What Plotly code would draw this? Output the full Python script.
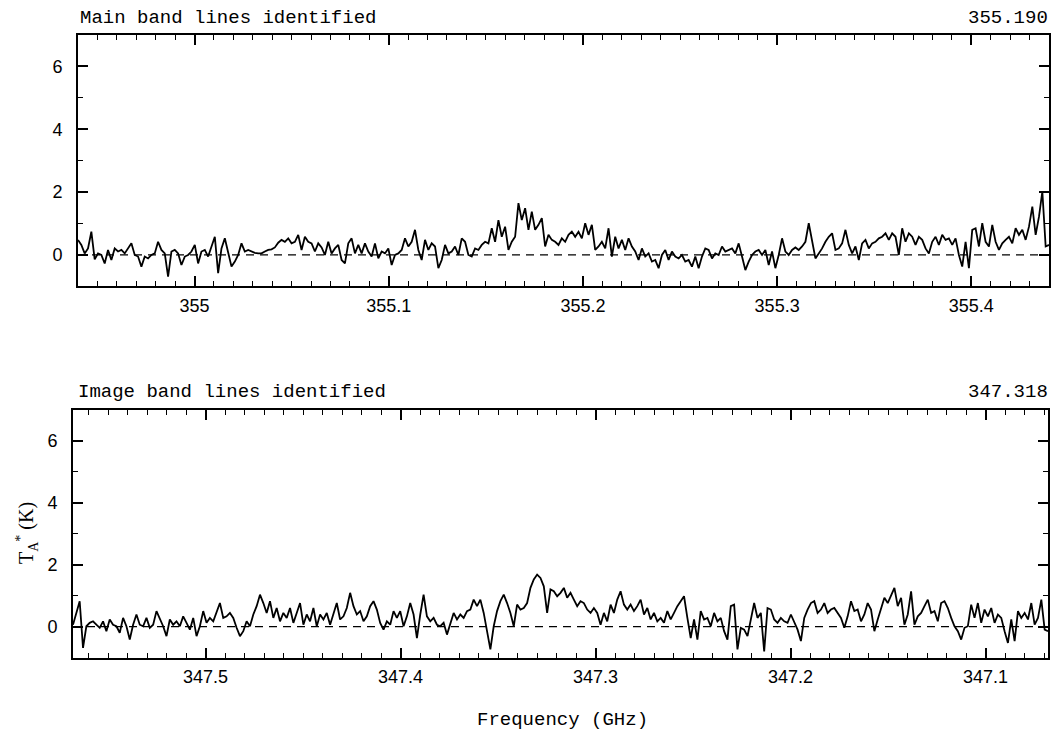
import numpy as np
import plotly.graph_objects as go

# Main band spectrum (K), channels from 354.940 to 355.440 GHz
main_start = 354.940
main_stop = 355.440
main_ta = [
    0.48, 0.32, 0.05, 0.21, 0.74, -0.14, 0.05, 0.00, -0.27, 0.16,
    -0.16, 0.21, 0.11, 0.16, 0.05, 0.21, 0.37, 0.00, -0.05, -0.37,
    -0.05, -0.11, 0.00, 0.05, 0.42, 0.16, 0.05, -0.69, 0.11, 0.16,
    0.05, -0.32, -0.05, 0.00, 0.11, 0.32, -0.27, 0.11, 0.16, -0.05,
    0.27, 0.58, -0.58, 0.21, 0.53, 0.05, -0.37, -0.21, 0.00, 0.37,
    0.11, 0.16, 0.11, 0.07, 0.05, 0.05, 0.11, 0.16, 0.18, 0.24,
    0.39, 0.48, 0.42, 0.53, 0.37, 0.42, 0.64, 0.16, 0.58, 0.42,
    0.37, 0.11, 0.37, 0.24, 0.00, 0.42, 0.05, 0.21, 0.32, -0.16,
    -0.27, 0.37, 0.53, 0.05, 0.32, 0.05, 0.37, 0.11, -0.05, 0.37,
    -0.11, 0.11, 0.05, 0.21, -0.32, 0.00, 0.05, 0.16, 0.53, 0.27,
    0.42, 0.80, 0.16, -0.16, 0.48, 0.16, 0.37, 0.27, -0.42, -0.16,
    0.32, 0.05, 0.11, 0.27, 0.00, 0.53, 0.42, 0.00, -0.05, 0.21,
    0.16, 0.32, 0.42, 0.37, 0.85, 0.42, 1.11, 0.58, 0.90, 0.16,
    0.42, 0.58, 1.65, 1.11, 1.49, 0.80, 1.38, 0.80, 0.96, 1.17,
    0.27, 0.64, 0.48, 0.42, 0.32, 0.53, 0.42, 0.64, 0.74, 0.58,
    0.74, 0.53, 1.01, 0.64, 0.96, 0.16, 0.27, 0.42, 0.21, 0.85,
    -0.05, 0.58, 0.21, 0.48, 0.16, 0.53, 0.27, 0.11, -0.16, 0.21,
    -0.05, 0.05, -0.21, -0.16, -0.42, 0.00, 0.16, -0.16, 0.11, -0.05,
    -0.11, 0.00, -0.21, -0.16, -0.37, -0.05, -0.42, -0.05, 0.21, 0.16,
    -0.11, 0.05, 0.00, 0.27, 0.11, 0.16, 0.21, 0.05, 0.37, -0.05,
    -0.48, -0.21, 0.00, 0.11, 0.16, 0.00, 0.16, -0.32, 0.11, -0.42,
    0.00, 0.53, 0.11, 0.00, 0.16, 0.24, 0.16, 0.27, 0.42, 1.01,
    0.48, -0.11, 0.05, 0.21, 0.42, 0.58, 0.69, 0.16, 0.21, 0.37,
    0.80, 0.32, 0.05, 0.27, -0.16, 0.37, 0.48, 0.21, 0.37, 0.42,
    0.53, 0.58, 0.69, 0.48, 0.69, 0.58, 0.00, 0.85, 0.42, 0.69,
    0.58, 0.32, 0.58, 0.48, 0.21, 0.05, 0.42, 0.58, 0.32, 0.64,
    0.48, 0.53, 0.32, 0.53, 0.00, -0.37, 0.42, -0.42, 0.80, 0.85,
    0.27, 1.01, 0.42, 0.27, 0.96, 0.42, 0.16, 0.37, 0.48, 0.58,
    0.37, 0.85, 0.64, 0.80, 0.48, 0.90, 1.54, 0.64, 1.22, 2.02,
    0.27, 0.32,
]

# Image band spectrum (K), channels from 347.568 down to 347.068 GHz
image_start = 347.568
image_stop = 347.068
image_ta = [
    0.06, 0.44, 0.82, -0.69, 0.01, 0.12, 0.17, 0.06, -0.04, 0.17,
    -0.15, 0.23, 0.06, 0.01, -0.20, 0.28, 0.01, -0.42, 0.06, 0.39,
    0.06, 0.01, 0.28, -0.04, 0.06, 0.50, 0.28, 0.01, -0.31, 0.23,
    0.06, 0.17, 0.01, 0.33, 0.12, -0.10, 0.28, -0.31, 0.01, 0.50,
    0.12, 0.28, 0.17, 0.44, 0.76, 0.28, 0.33, 0.44, 0.28, -0.04,
    -0.31, -0.15, 0.17, 0.01, 0.39, 0.66, 1.03, 0.76, 0.44, 0.82,
    0.28, 0.60, 0.17, 0.44, 0.28, 0.60, 0.12, 0.44, 0.76, 0.06,
    0.39, 0.17, 0.60, 0.01, 0.39, 0.23, 0.44, 0.06, 0.39, 0.76,
    0.23, 0.33, 0.60, 1.09, 0.66, 0.39, 0.50, 0.17, 0.33, 0.66,
    0.82, 0.55, 0.12, -0.10, 0.17, 0.06, 0.50, 0.28, 0.50, 0.01,
    0.33, 0.76, 0.39, -0.37, 0.39, 1.03, 0.33, 0.17, 0.28, 0.06,
    0.01, 0.12, -0.26, 0.06, 0.44, 0.23, 0.39, 0.28, 0.50, 0.55,
    0.87, 0.66, 0.87, 0.44, -0.10, -0.74, 0.01, 0.50, 0.82, 1.03,
    0.76, 0.44, 0.01, 0.71, 0.55, 0.60, 0.76, 1.25, 1.52, 1.68,
    1.57, 1.30, 0.44, 1.20, 1.14, 0.98, 1.09, 1.25, 0.93, 1.09,
    0.87, 0.66, 0.82, 0.76, 0.55, 0.44, 0.60, 0.44, 0.06, 0.44,
    0.17, 0.71, 0.44, 0.87, 1.14, 0.71, 0.55, 0.71, 0.50, 0.66,
    0.87, 0.39, 0.60, 0.23, 0.44, 0.17, 0.28, 0.12, 0.50, 0.23,
    0.44, 0.66, 0.82, 0.98, 0.28, -0.37, 0.23, -0.42, 0.50, 0.23,
    0.28, 0.01, 0.44, 0.17, 0.28, -0.15, -0.42, 0.66, 0.71, -0.74,
    -0.04, -0.10, -0.31, 0.28, 0.76, 0.28, 0.44, -0.80, 0.60, 0.55,
    0.23, 0.12, 0.28, 0.17, 0.12, 0.39, 0.12, -0.10, -0.47, 0.28,
    0.55, 0.76, 0.82, 0.44, 0.55, 0.76, 0.44, 0.55, 0.60, 0.44,
    0.28, -0.04, 0.33, 0.82, 0.50, 0.55, 0.17, 0.39, 0.76, 0.55,
    -0.15, 0.23, 0.60, 0.93, 0.76, 0.98, 1.25, 0.66, 0.93, 0.06,
    0.39, 1.14, 0.06, 0.33, 0.44, 0.66, 0.87, 0.44, 0.50, 0.17,
    0.76, 0.82, 0.60, 0.28, 0.01, -0.15, -0.42, -0.04, 0.01, 0.71,
    0.28, 0.76, 0.12, 0.55, 0.33, 0.60, 0.12, 0.39, 0.28, -0.15,
    -0.53, 0.23, -0.47, 0.50, 0.28, 0.44, 0.23, 0.76, 0.06, 0.28,
    0.87, -0.10, -0.15,
]

main_freq = np.linspace(main_start, main_stop, len(main_ta))
image_freq = np.linspace(image_start, image_stop, len(image_ta))

W, H = 1055, 737
MONO = "Liberation Mono, Courier New, monospace"
SANS = "Liberation Sans, Arial, sans-serif"


def px_x(p):
    return p / W


def px_y(p):
    return 1 - p / H


fig = go.Figure()
fig.add_trace(go.Scatter(x=main_freq, y=main_ta, mode="lines",
                         line=dict(color="black", width=1.8),
                         xaxis="x", yaxis="y", showlegend=False))
fig.add_trace(go.Scatter(x=image_freq, y=image_ta, mode="lines",
                         line=dict(color="black", width=1.8),
                         xaxis="x2", yaxis="y2", showlegend=False))


def xaxis_style(domain, rng, tick0, anchor):
    return dict(
        domain=domain, range=rng, anchor=anchor,
        showline=True, linecolor="black", linewidth=2, mirror="ticks",
        ticks="inside", ticklen=10, tickwidth=1.5, tickcolor="black",
        tick0=tick0, dtick=0.1,
        minor=dict(dtick=0.01, ticks="inside", ticklen=5, tickwidth=1.2,
                   tickcolor="black", showgrid=False),
        showgrid=False, zeroline=False,
        tickfont=dict(family=SANS, size=18, color="black"),
        ticklabelstandoff=2,
    )


def yaxis_style(domain, anchor):
    return dict(
        domain=domain, range=[-1, 7], anchor=anchor,
        showline=True, linecolor="black", linewidth=2, mirror="ticks",
        ticks="inside", ticklen=10, tickwidth=1.5, tickcolor="black",
        tick0=0, dtick=2,
        minor=dict(dtick=1, ticks="inside", ticklen=5, tickwidth=1.2,
                   tickcolor="black", showgrid=False),
        showgrid=False, zeroline=False,
        tickfont=dict(family=SANS, size=18, color="black"),
        ticklabelstandoff=10,
    )


fig.update_layout(
    width=W, height=H,
    margin=dict(l=0, r=0, t=0, b=0),
    paper_bgcolor="white", plot_bgcolor="white",
    xaxis=xaxis_style([px_x(78), px_x(1049)], [main_start, main_stop], 355, "y"),
    yaxis=yaxis_style([px_y(286.4), px_y(35)], "x"),
    xaxis2=xaxis_style([px_x(73), px_x(1048)], [image_start, image_stop], 347, "y2"),
    yaxis2=yaxis_style([px_y(657.5), px_y(410)], "x2"),
)

# zero baselines
for xr, yr in (("x domain", "y"), ("x2 domain", "y2")):
    fig.add_shape(type="line", xref=xr, yref=yr, x0=0, x1=1, y0=0, y1=0,
                  line=dict(color="black", width=1.3, dash="8px,6px"))

title_font = dict(family=MONO, size=19, color="black")
fig.add_annotation(text="Main band lines identified", xref="paper", yref="paper",
                   x=px_x(78), y=px_y(31), xanchor="left", yanchor="bottom",
                   showarrow=False, font=title_font)
fig.add_annotation(text="355.190", xref="paper", yref="paper",
                   x=px_x(1050), y=px_y(31), xanchor="right", yanchor="bottom",
                   showarrow=False, font=title_font)
fig.add_annotation(text="Image band lines identified", xref="paper", yref="paper",
                   x=px_x(76), y=px_y(405), xanchor="left", yanchor="bottom",
                   showarrow=False, font=title_font)
fig.add_annotation(text="347.318", xref="paper", yref="paper",
                   x=px_x(1050), y=px_y(405), xanchor="right", yanchor="bottom",
                   showarrow=False, font=title_font)
fig.add_annotation(text="Frequency (GHz)", xref="paper", yref="paper",
                   x=px_x(562), y=px_y(720), xanchor="center", yanchor="middle",
                   showarrow=False, font=title_font)
fig.add_annotation(text="T<sub>A</sub><sup>*</sup> (K)", xref="paper", yref="paper",
                   x=px_x(27), y=px_y(533), xanchor="center", yanchor="middle",
                   textangle=-90, showarrow=False,
                   font=dict(family="Liberation Serif, serif", size=20, color="black"))

fig.write_html("out.html")
